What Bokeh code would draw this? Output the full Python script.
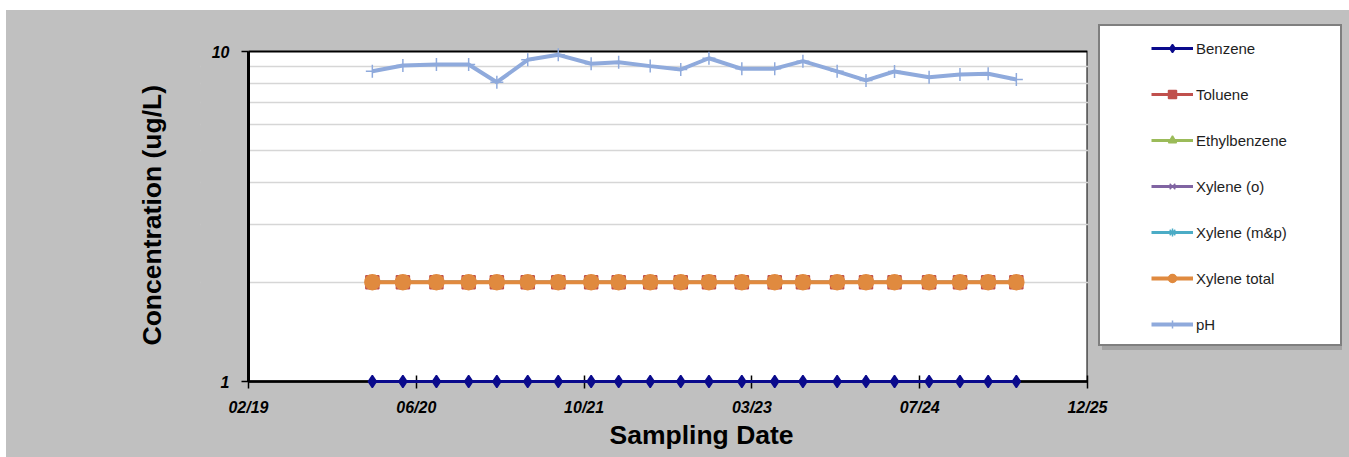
import pandas as pd
from bokeh.plotting import figure
from bokeh.models import (ColumnDataSource, Range1d, FixedTicker, DatetimeTickFormatter,
                          PrintfTickFormatter, Legend, LegendItem, BoxAnnotation, Title)
from bokeh.embed import file_html
from bokeh.resources import INLINE

# ---------------- data ----------------
sample_dates = ["2020-02-05", "2020-05-06", "2020-08-14", "2020-11-18", "2021-02-10",
                "2021-05-13", "2021-08-12", "2021-11-18", "2022-02-08", "2022-05-13",
                "2022-08-12", "2022-11-04", "2023-02-10", "2023-05-19", "2023-08-11",
                "2023-11-21", "2024-02-15", "2024-05-10", "2024-08-21", "2024-11-21",
                "2025-02-13", "2025-05-08"]
benzene      = [1, 1, 1, 1, 1, 1, 1, 1, 1, 1, 1, 1, 1, 1, 1, 1, 1, 1, 1, 1, 1, 1]
toluene      = [2, 2, 2, 2, 2, 2, 2, 2, 2, 2, 2, 2, 2, 2, 2, 2, 2, 2, 2, 2, 2, 2]
ethylbenzene = [2, 2, 2, 2, 2, 2, 2, 2, 2, 2, 2, 2, 2, 2, 2, 2, 2, 2, 2, 2, 2, 2]
xylene_o     = [2, 2, 2, 2, 2, 2, 2, 2, 2, 2, 2, 2, 2, 2, 2, 2, 2, 2, 2, 2, 2, 2]
xylene_mp    = [2, 2, 2, 2, 2, 2, 2, 2, 2, 2, 2, 2, 2, 2, 2, 2, 2, 2, 2, 2, 2, 2]
xylene_total = [2, 2, 2, 2, 2, 2, 2, 2, 2, 2, 2, 2, 2, 2, 2, 2, 2, 2, 2, 2, 2, 2]
ph           = [8.71, 9.07, 9.13, 9.13, 8.07, 9.44, 9.77, 9.18, 9.28, 9.03, 8.82,
                9.54, 8.86, 8.87, 9.35, 8.71, 8.17, 8.70, 8.36, 8.52, 8.56, 8.23]

series_names = ["Benzene", "Toluene", "Ethylbenzene", "Xylene (o)", "Xylene (m&p)",
                "Xylene total", "pH"]
x_tick_dates = ["2019-02-01", "2020-06-15", "2021-10-28", "2023-03-12", "2024-07-24",
                "2025-12-06"]
y_ticks = [1, 10]
y_minor_ticks = [2, 3, 4, 5, 6, 7, 8, 9]
x_title = "Sampling Date"
y_title = "Concentration (ug/L)"

# ---------------- styles / layout ----------------
GRAY = "#c0c0c0"
FONT = "Liberation Sans"
styles = [
    dict(color="#0a0a8c", marker="diamond", size=12, lw=3),
    dict(color="#c0504d", marker="square", size=13, lw=3),
    dict(color="#9bbb59", marker="triangle", size=12, lw=3),
    dict(color="#8064a2", marker="x", size=11, lw=3),
    dict(color="#4bacc6", marker="asterisk", size=11, lw=3),
    dict(color="#e08a3f", marker="circle", size=15, lw=4),
    dict(color="#8faadc", marker="cross", size=13, lw=4),
]
values = [benzene, toluene, ethylbenzene, xylene_o, xylene_mp, xylene_total, ph]

FIG_W, FIG_H = 1343, 447
BORDER_L, BORDER_T = 194, 8
PLOT_W, DECADE_H = 839, 330            # plotting area size in px
EXT_L, EXT_TOP, EXT_BOT = 48, 33, 36   # frame extends beyond the plotting area
FRAME_W = FIG_W - BORDER_L             # frame also hosts the legend on the right
FRAME_H = DECADE_H + EXT_TOP + EXT_BOT
BORDER_B = FIG_H - BORDER_T - FRAME_H

dates = pd.to_datetime(sample_dates)
ticks_ms = [pd.Timestamp(d).value / 1e6 for d in x_tick_dates]
x0, x1 = ticks_ms[0], ticks_ms[-1]
ms_per_px = (x1 - x0) / PLOT_W
x_start = x0 - EXT_L * ms_per_px
x_end = x_start + FRAME_W * ms_per_px
y_start = 10 ** (-EXT_BOT / DECADE_H)
y_end = 10 ** (1 + EXT_TOP / DECADE_H)

p = figure(width=FIG_W, height=FIG_H, x_axis_type="datetime", y_axis_type="log",
           x_range=Range1d(x_start, x_end), y_range=Range1d(y_start, y_end),
           output_backend="svg", toolbar_location=None,
           min_border_left=BORDER_L, min_border_right=0, min_border_top=BORDER_T,
           min_border_bottom=BORDER_B)
p.margin = (10, 0, 0, 6)
p.styles = {"background-color": GRAY}
p.background_fill_color = GRAY
p.border_fill_color = GRAY
p.outline_line_color = None

# white plotting area with black outline
p.add_layout(BoxAnnotation(left=x0, right=x1, bottom=1, top=10, fill_color="white",
                           fill_alpha=1, line_color="black", line_alpha=1, line_width=2,
                           level="image"))

p.xgrid.visible = False
p.ygrid.ticker = FixedTicker(ticks=y_ticks, minor_ticks=y_minor_ticks)
p.ygrid.grid_line_color = None
p.ygrid.minor_grid_line_color = "#d6d6d6"
p.ygrid.minor_grid_line_width = 1.5
# hide grid lines outside the plotting area
p.add_layout(BoxAnnotation(left=x1, fill_color=GRAY, fill_alpha=1, line_alpha=0,
                           level="underlay"))
p.add_layout(BoxAnnotation(right=x0, fill_color=GRAY, fill_alpha=1, line_alpha=0,
                           level="underlay"))

p.yaxis.ticker = FixedTicker(ticks=y_ticks, minor_ticks=[])
p.yaxis.formatter = PrintfTickFormatter(format="%d")
p.yaxis.bounds = (1, 10)
p.yaxis.fixed_location = x0
p.xaxis.ticker = FixedTicker(ticks=ticks_ms, minor_ticks=[])
p.xaxis.bounds = (x0, x1)
p.xaxis.fixed_location = 1
fmt = "%m/%y"
p.xaxis.formatter = DatetimeTickFormatter(milliseconds=fmt, seconds=fmt, minsec=fmt, minutes=fmt,
                                          hourmin=fmt, hours=fmt, days=fmt, months=fmt, years=fmt)

for ax in (p.xaxis, p.yaxis):
    ax.axis_line_color = "black"
    ax.major_tick_line_color = "black"
    ax.major_tick_line_width = 1.5
    ax.minor_tick_line_color = None
    ax.major_label_text_font = FONT
    ax.major_label_text_font_style = "bold italic"
    ax.major_label_text_font_size = "16px"
    ax.major_label_text_color = "black"

p.yaxis.axis_line_width = 3
p.yaxis.major_tick_in = 0
p.yaxis.major_tick_out = 7
p.yaxis.major_label_standoff = 12

p.xaxis.axis_line_width = 2.5
p.xaxis.major_tick_in = 6
p.xaxis.major_tick_out = 7
p.xaxis.major_label_standoff = 10

has_standoff = "standoff" in Title.properties()
tx = Title(text=x_title, align="left", offset=409, text_font=FONT, text_font_style="bold",
           text_font_size="26.5px", text_color="black")
ty = Title(text=y_title, align="left", offset=EXT_BOT + 36, text_font=FONT,
           text_font_style="bold", text_font_size="26.5px", text_color="black")
if has_standoff:
    tx.standoff = 0
    ty.standoff = 68
p.add_layout(tx, "below")
p.add_layout(ty, "left")

renderers = []
for name, vals, st in zip(series_names, values, styles):
    src = ColumnDataSource(dict(x=dates, y=vals))
    r1 = p.line("x", "y", source=src, line_color=st["color"], line_width=st["lw"])
    r2 = p.scatter("x", "y", source=src, marker=st["marker"], size=st["size"],
                   fill_color=st["color"], line_color=st["color"], line_width=1.5)
    if name == "Benzene":      # drawn over the x axis, as in the original
        r1.level = "overlay"
        r2.level = "overlay"
    renderers.append((r1, r2))

# ---------------- legend (box + entries) ----------------
ghost = p.scatter(x=dates, y=benzene, size=1, fill_alpha=0, line_alpha=0)
box_kw = dict(padding=0, margin=0, glyph_width=240, glyph_height=318, label_width=0,
              label_height=0, label_standoff=0, label_text_font_size="1px")
LEG_X = EXT_L + PLOT_W + 11
LEG_VY = EXT_BOT + 35
shadow = Legend(items=[LegendItem(label=" ", renderers=[ghost])],
                location=(LEG_X + 4, LEG_VY - 4),
                border_line_alpha=0, background_fill_color="#808080",
                background_fill_alpha=0.45, **box_kw)
box = Legend(items=[LegendItem(label=" ", renderers=[ghost])], location=(LEG_X, LEG_VY),
             border_line_color="black", border_line_width=2,
             background_fill_color="white", background_fill_alpha=1, **box_kw)
entries = Legend(items=[LegendItem(label=n, renderers=list(r))
                        for n, r in zip(series_names, renderers)],
                 location=(LEG_X + 40, LEG_VY - 1), padding=13, spacing=26, margin=0,
                 glyph_width=42, glyph_height=20, label_height=20, label_standoff=3,
                 label_text_font=FONT, label_text_font_size="15px",
                 label_text_color="#1e1e1e", border_line_alpha=0, background_fill_alpha=0)
p.add_layout(shadow)
p.add_layout(box)
p.add_layout(entries)

open("out.html", "w").write(file_html(p, INLINE))
